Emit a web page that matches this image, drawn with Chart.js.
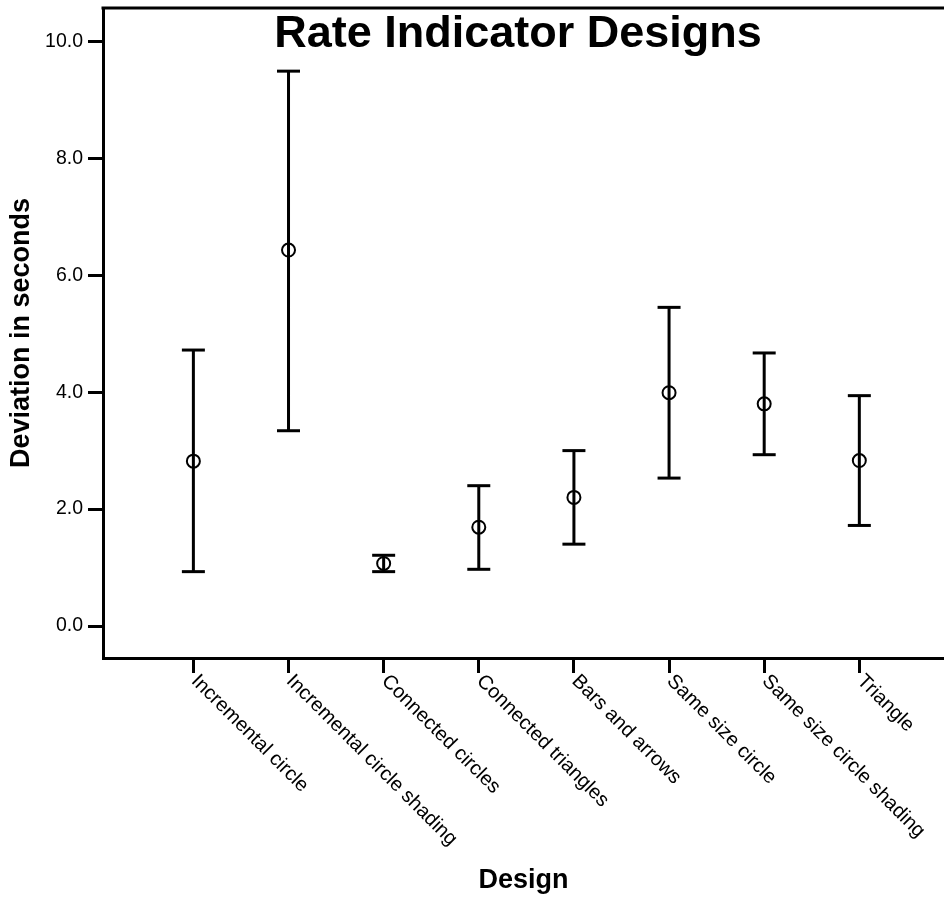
<!DOCTYPE html>
<html>
<head>
<meta charset="utf-8">
<title>Rate Indicator Designs</title>
<script src="https://cdn.jsdelivr.net/npm/chart.js@4"></script>
<style>
    html, body { margin: 0; padding: 0; background: #fff; }
    #chart { display: block; }
</style>
</head>
<body>
<canvas id="chart" width="944" height="897"></canvas>
<script>
// categories and values
const designs = [
    'Incremental circle',
    'Incremental circle shading',
    'Connected circles',
    'Connected triangles',
    'Bars and arrows',
    'Same size circle',
    'Same size circle shading',
    'Triangle'
];
const means = [2.82, 6.43, 1.07, 1.69, 2.20, 3.99, 3.80, 2.83];
const upper = [4.72, 9.49, 1.21, 2.40, 3.00, 5.45, 4.67, 3.94];
const lower = [0.93, 3.34, 0.93, 0.97, 1.40, 2.53, 2.93, 1.72];
const yTicks = [0, 2, 4, 6, 8, 10];

const FONT = "'Liberation Sans', Arial, sans-serif";

// vertical whiskers: one segment per design, broken by null points
const whiskers = [];
designs.forEach((d, i) => {
    whiskers.push({ x: i, y: lower[i] });
    whiskers.push({ x: i, y: upper[i] });
    whiskers.push({ x: i, y: null });
});
const caps = [];
designs.forEach((d, i) => {
    caps.push({ x: i, y: lower[i] });
    caps.push({ x: i, y: upper[i] });
});
const meanPoints = means.map((m, i) => ({ x: i, y: m }));

// title drawn inside the plot, plus top frame line and slanted category labels
const decorPlugin = {
    id: 'decor',
    afterDraw(chart) {
        const ctx = chart.ctx;
        const area = chart.chartArea;
        const xScale = chart.scales.x;

        ctx.save();
        ctx.strokeStyle = '#000';
        ctx.lineWidth = 3;
        ctx.beginPath();
        ctx.moveTo(area.left - 1.5, area.top);
        ctx.lineTo(area.right, area.top);
        ctx.stroke();

        ctx.fillStyle = '#000';
        ctx.font = 'bold 45px ' + FONT;
        ctx.textAlign = 'center';
        ctx.textBaseline = 'alphabetic';
        ctx.fillText('Rate Indicator Designs', 518, 47);

        ctx.font = '20px ' + FONT;
        ctx.textAlign = 'left';
        ctx.textBaseline = 'top';
        designs.forEach((label, i) => {
            const px = xScale.getPixelForValue(i);
            ctx.save();
            ctx.translate(px + 8, area.bottom + 13);
            ctx.rotate(Math.PI / 4);
            ctx.fillText(label, 0, 0);
            ctx.restore();
        });
        ctx.restore();
    }
};

function noPadding(scale) {
    scale.paddingTop = 0;
    scale.paddingBottom = 0;
    scale.paddingLeft = 0;
    scale.paddingRight = 0;
}

const ctx = document.getElementById('chart').getContext('2d');
new Chart(ctx, {
    type: 'scatter',
    data: {
        datasets: [
            {
                label: 'whiskers',
                data: whiskers,
                showLine: true,
                spanGaps: false,
                borderColor: '#000',
                borderWidth: 3,
                pointRadius: 0
            },
            {
                label: 'caps',
                data: caps,
                pointStyle: 'line',
                pointRadius: 11.5,
                borderColor: '#000',
                borderWidth: 3
            },
            {
                label: 'mean',
                data: meanPoints,
                pointStyle: 'circle',
                pointRadius: 6.5,
                borderColor: '#000',
                borderWidth: 2,
                backgroundColor: 'rgba(0,0,0,0)'
            }
        ]
    },
    options: {
        responsive: false,
        animation: false,
        devicePixelRatio: 1,
        layout: {
            autoPadding: false,
            padding: { top: 8, right: 0, bottom: 0, left: 0 }
        },
        plugins: {
            legend: { display: false },
            tooltip: { enabled: false },
            title: { display: false }
        },
        scales: {
            x: {
                type: 'linear',
                min: -0.95,
                max: 7.89,
                afterFit: function(scale) {
                    scale.height = 239;
                    noPadding(scale);
                },
                afterBuildTicks: function(scale) {
                    scale.ticks = designs.map((d, i) => ({ value: i }));
                },
                ticks: { display: false },
                grid: {
                    drawOnChartArea: false,
                    drawTicks: true,
                    tickLength: 15,
                    tickWidth: 3,
                    tickColor: '#000'
                },
                border: { display: true, color: '#000', width: 3 },
                title: {
                    display: true,
                    text: 'Design',
                    color: '#000',
                    font: { family: FONT, size: 27, weight: 'bold' },
                    padding: { top: 0, bottom: 0 }
                }
            },
            y: {
                min: -0.547,
                max: 10.57,
                afterFit: function(scale) {
                    scale.width = 103;
                    noPadding(scale);
                },
                afterBuildTicks: function(scale) {
                    scale.ticks = yTicks.map(v => ({ value: v }));
                },
                ticks: {
                    color: '#000',
                    padding: 5,
                    font: { family: FONT, size: 19.5 },
                    callback: function(value) { return Number(value).toFixed(1); }
                },
                grid: {
                    drawOnChartArea: false,
                    drawTicks: true,
                    tickLength: 15,
                    tickWidth: 3,
                    tickColor: '#000'
                },
                border: { display: true, color: '#000', width: 3 },
                title: {
                    display: true,
                    text: 'Deviation in seconds',
                    color: '#000',
                    font: { family: FONT, size: 27, weight: 'bold' },
                    padding: { top: 5, bottom: 0 }
                }
            }
        }
    },
    plugins: [decorPlugin]
});
</script>
</body>
</html>
